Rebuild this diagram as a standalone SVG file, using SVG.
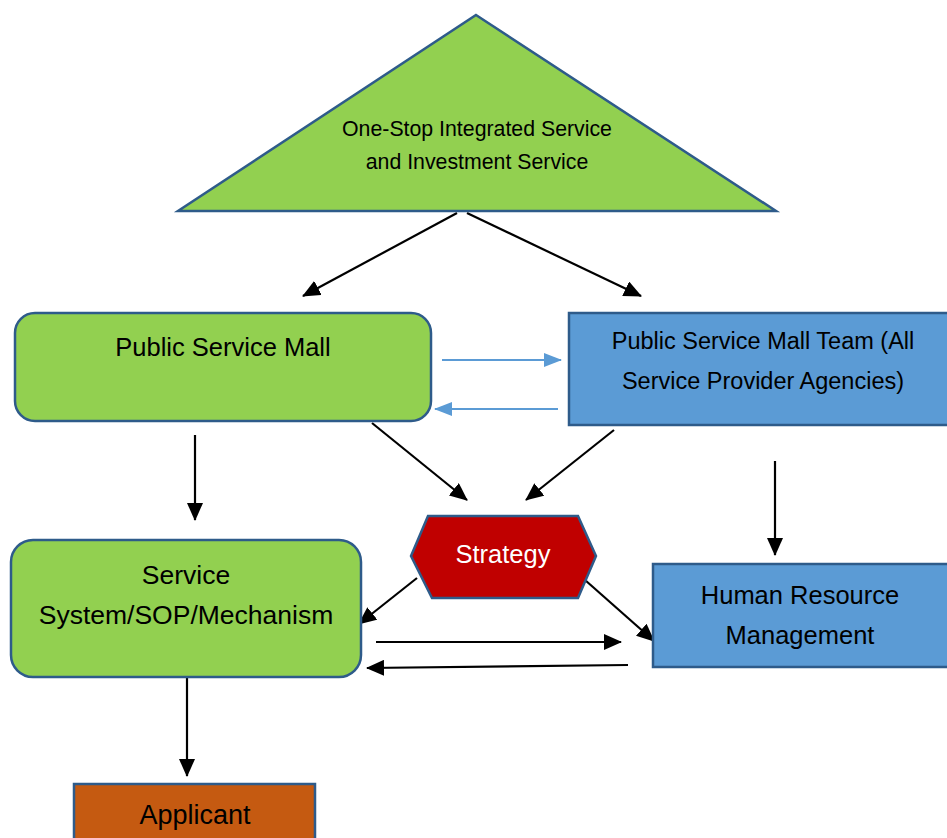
<svg xmlns="http://www.w3.org/2000/svg" width="947" height="838" viewBox="0 0 947 838">
<style>
.t{font-family:"Liberation Sans",Arial,sans-serif;fill:#000;text-anchor:middle}
.node{stroke:#2E5B8A;stroke-width:2.5}
.g{fill:#92D050}
.b{fill:#5B9BD5}
.k{stroke:#000;stroke-width:2.2;fill:none}
.bl{stroke:#5B9BD5;stroke-width:2.2;fill:none}
</style>
<defs>
<marker id="ah" markerUnits="userSpaceOnUse" markerWidth="18" markerHeight="16" refX="17" refY="8" orient="auto">
<path d="M0,0 L18,8 L0,16 Z" fill="#000"/>
</marker>
<marker id="ahb" markerUnits="userSpaceOnUse" markerWidth="18" markerHeight="16" refX="17" refY="8" orient="auto">
<path d="M0,1 L18,8 L0,15 Z" fill="#5B9BD5"/>
</marker>
</defs>
<rect width="947" height="838" fill="#fff"/>
<g id="connectors">
<line class="k" x1="457" y1="213" x2="303" y2="296" marker-end="url(#ah)"/>
<line class="k" x1="467" y1="213" x2="641" y2="296" marker-end="url(#ah)"/>
<line class="bl" x1="442" y1="360" x2="561" y2="360" marker-end="url(#ahb)"/>
<line class="bl" x1="558" y1="409" x2="435" y2="409" marker-end="url(#ahb)"/>
<line class="k" x1="195" y1="435" x2="195" y2="520" marker-end="url(#ah)"/>
<line class="k" x1="372" y1="423" x2="467" y2="500" marker-end="url(#ah)"/>
<line class="k" x1="614" y1="430" x2="526" y2="500" marker-end="url(#ah)"/>
<line class="k" x1="775" y1="461" x2="775" y2="555" marker-end="url(#ah)"/>
<line class="k" x1="417" y1="578" x2="359" y2="624" marker-end="url(#ah)"/>
<line class="k" x1="585" y1="580" x2="654" y2="641" marker-end="url(#ah)"/>
<line class="k" x1="376" y1="642" x2="621" y2="642" marker-end="url(#ah)"/>
<line class="k" x1="628" y1="665" x2="367" y2="668" marker-end="url(#ah)"/>
<line class="k" x1="187" y1="678" x2="187" y2="776" marker-end="url(#ah)"/>
</g>
<g id="one-stop">
<polygon class="node g" points="476,15 776,211 178,211"/>
<text class="t" x="477" y="136" font-size="21.3">One-Stop Integrated Service</text>
<text class="t" x="477" y="169" font-size="21.3">and Investment Service</text>
</g>
<g id="public-service-mall">
<rect class="node g" x="15" y="313" width="416" height="108" rx="20"/>
<text class="t" x="223" y="356" font-size="25.5">Public Service Mall</text>
</g>
<g id="psm-team">
<rect class="node b" x="569" y="313" width="380" height="112"/>
<text class="t" x="763" y="349" font-size="23.5">Public Service Mall Team (All</text>
<text class="t" x="763" y="389" font-size="23.5">Service Provider Agencies)</text>
</g>
<g id="strategy">
<polygon class="node" fill="#C00000" points="411,556 428,516 578,516 596,556 578,598 432,598"/>
<text class="t" x="503" y="563" font-size="25.5" style="fill:#fff">Strategy</text>
</g>
<g id="service-system">
<rect class="node g" x="11" y="540" width="350" height="137" rx="22"/>
<text class="t" x="186" y="584" font-size="26.5">Service</text>
<text class="t" x="186" y="624" font-size="26.5">System/SOP/Mechanism</text>
</g>
<g id="hrm">
<rect class="node b" x="653" y="564" width="296" height="103"/>
<text class="t" x="800" y="604" font-size="25.5">Human Resource</text>
<text class="t" x="800" y="644" font-size="25.5">Management</text>
</g>
<g id="applicant">
<rect class="node" fill="#C55A11" x="74" y="784" width="241" height="60"/>
<text class="t" x="195" y="824" font-size="27">Applicant</text>
</g>
</svg>
